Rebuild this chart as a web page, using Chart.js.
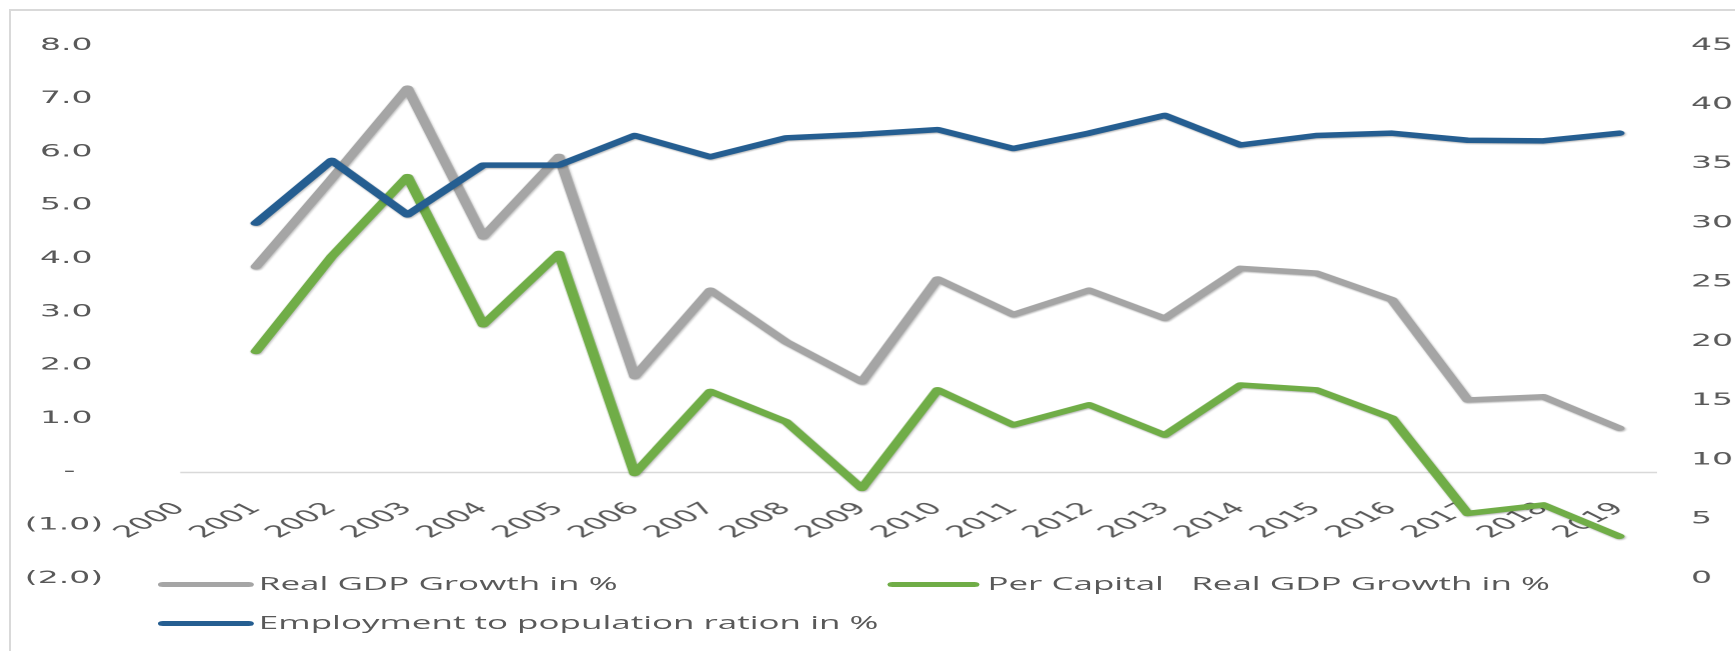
<!DOCTYPE html>
<html>
<head>
<meta charset="utf-8">
<script src="https://cdn.jsdelivr.net/npm/chart.js@4.4.1/dist/chart.umd.min.js"></script>
<style>
  html, body { margin: 0; padding: 0; background: #ffffff; }
  #outer { position: relative; width: 1735px; height: 651px; overflow: hidden; background: #ffffff; }
  #frame { position: absolute; left: 9px; top: 9px; width: 1760px; height: 700px;
           border-top: 2px solid #d9d9d9; border-left: 2px solid #d9d9d9; box-sizing: border-box; }
  #stage { position: absolute; left: 0; top: 0; width: 868px; height: 651px;
           transform-origin: 0 0; transform: scaleX(1.99885); }
  #chart { position: absolute; left: 0; top: 0; }
  .lg-line { position: absolute; height: 5px; border-radius: 3px; }
  .lg-text { position: absolute; font-family: 'Open Sans', sans-serif; font-size: 17.5px;
             color: #595959; white-space: pre; line-height: 20px; }
</style>
</head>
<body>
<div id="outer">
  <div id="frame"></div>
  <div id="stage">
    <canvas id="chart" width="868" height="651"></canvas>
    <div id="legend"></div>
  </div>
</div>
<script>
// ---- data ----
const years = ['2000','2001','2002','2003','2004','2005','2006','2007','2008','2009',
               '2010','2011','2012','2013','2014','2015','2016','2017','2018','2019'];
const realGdpGrowth = [null, 3.85, 5.50, 7.20, 4.41, 5.92, 1.79, 3.41, 2.44, 1.69,
                       3.62, 2.95, 3.41, 2.88, 3.82, 3.73, 3.23, 1.35, 1.41, 0.82];
const perCapitaGrowth = [null, 2.26, 4.04, 5.54, 2.76, 4.10, -0.03, 1.51, 0.94, -0.31,
                         1.54, 0.88, 1.26, 0.69, 1.63, 1.54, 1.01, -0.78, -0.62, -1.21];
const employmentRatio = [null, 30.0, 35.3, 30.7, 34.9, 34.9, 37.4, 35.6, 37.2, 37.5,
                         37.9, 36.3, 37.6, 39.1, 36.6, 37.4, 37.6, 37.0, 36.95, 37.6];
const seriesNames = ['Real GDP Growth in %', 'Per Capital   Real GDP Growth in %',
                     'Employment to population ration in %'];
const seriesColors = ['#a5a5a5', '#70ad47', '#255e91'];
const leftTicks = { min: -2, max: 8, step: 1 };
const rightTicks = { min: 0, max: 45, step: 5 };

const axisFont = { family: "'DejaVu Sans', sans-serif", size: 16.5 };
const axisColor = '#595959';

function accounting(v) {
  if (Math.abs(v) < 1e-9) return '-\u2007\u2009';
  if (v < 0) return '(' + (-v).toFixed(1) + ')';
  return v.toFixed(1) + ' ';
}

const zeroLine = {
  id: 'zeroLine',
  beforeDatasetsDraw(chart) {
    const x = chart.scales.x, y = chart.scales.y, ctx = chart.ctx;
    const py = Math.round(y.getPixelForValue(0)) + 0.5;
    ctx.save();
    ctx.strokeStyle = '#d9d9d9';
    ctx.lineWidth = 1.5;
    ctx.beginPath();
    ctx.moveTo(x.getPixelForValue(0), py);
    ctx.lineTo(chart.chartArea.right, py);
    ctx.stroke();
    ctx.restore();
  }
};
const lineShadow = {
  id: 'lineShadow',
  beforeDatasetsDraw(chart) {
    const ctx = chart.ctx;
    ctx.save();
    ctx.shadowColor = 'rgba(0,0,0,0.28)';
    ctx.shadowBlur = 3;
    ctx.shadowOffsetX = 1;
    ctx.shadowOffsetY = 2;
  },
  afterDatasetsDraw(chart) { chart.ctx.restore(); }
};

function ds(label, data, color, axis, order) {
  return { label, data, borderColor: color, backgroundColor: color, yAxisID: axis, order,
           borderWidth: 5.5, pointRadius: 0, pointHoverRadius: 0, tension: 0,
           borderCapStyle: 'round', borderJoinStyle: 'round', fill: false };
}

new Chart(document.getElementById('chart'), {
  type: 'line',
  data: {
    labels: years,
    datasets: [
      ds(seriesNames[0], realGdpGrowth, seriesColors[0], 'y', 3),
      ds(seriesNames[1], perCapitaGrowth, seriesColors[1], 'y', 2),
      ds(seriesNames[2], employmentRatio, seriesColors[2], 'y1', 1)
    ]
  },
  options: {
    responsive: false,
    animation: false,
    devicePixelRatio: 2,
    layout: { padding: { top: 45.5, bottom: 72.5, left: 0, right: 0 } },
    plugins: { legend: { display: false }, tooltip: { enabled: false } },
    scales: {
      x: {
        type: 'category',
        position: { y: 0 },
        offset: true,
        grid: { display: false, drawTicks: false },
        border: { display: false },
        ticks: { color: axisColor, font: axisFont, minRotation: 45, maxRotation: 45,
                 autoSkip: false, padding: 27 }
      },
      y: {
        position: 'left',
        min: leftTicks.min, max: leftTicks.max,
        grid: { display: false, drawTicks: false },
        border: { display: false },
        ticks: { stepSize: leftTicks.step, color: axisColor, font: axisFont, padding: 19.7,
                 callback: (v) => accounting(v) },
        afterFit: (s) => { s.width = 71.2; }
      },
      y1: {
        position: 'right',
        min: rightTicks.min, max: rightTicks.max,
        grid: { display: false, drawTicks: false },
        border: { display: false },
        ticks: { stepSize: rightTicks.step, color: axisColor, font: axisFont, padding: 17 },
        afterFit: (s) => { s.width = 39; }
      }
    }
  },
  plugins: [zeroLine, lineShadow]
});

// ---- legend (Excel-style two-column layout) ----
const legendSlots = [
  { lineLeft: 79, lineWidth: 47.5, textLeft: 129.5, cy: 584 },
  { lineLeft: 443.5, lineWidth: 46.5, textLeft: 494, cy: 584 },
  { lineLeft: 79, lineWidth: 47.5, textLeft: 129.5, cy: 623 }
];
const legend = document.getElementById('legend');
seriesNames.forEach((name, i) => {
  const s = legendSlots[i];
  const ln = document.createElement('div');
  ln.className = 'lg-line';
  ln.style.left = s.lineLeft + 'px';
  ln.style.width = s.lineWidth + 'px';
  ln.style.top = (s.cy - 2.5) + 'px';
  ln.style.background = seriesColors[i];
  legend.appendChild(ln);
  const tx = document.createElement('div');
  tx.className = 'lg-text';
  tx.style.left = s.textLeft + 'px';
  tx.style.top = (s.cy - 11) + 'px';
  tx.textContent = name;
  legend.appendChild(tx);
});
</script>
</body>
</html>
